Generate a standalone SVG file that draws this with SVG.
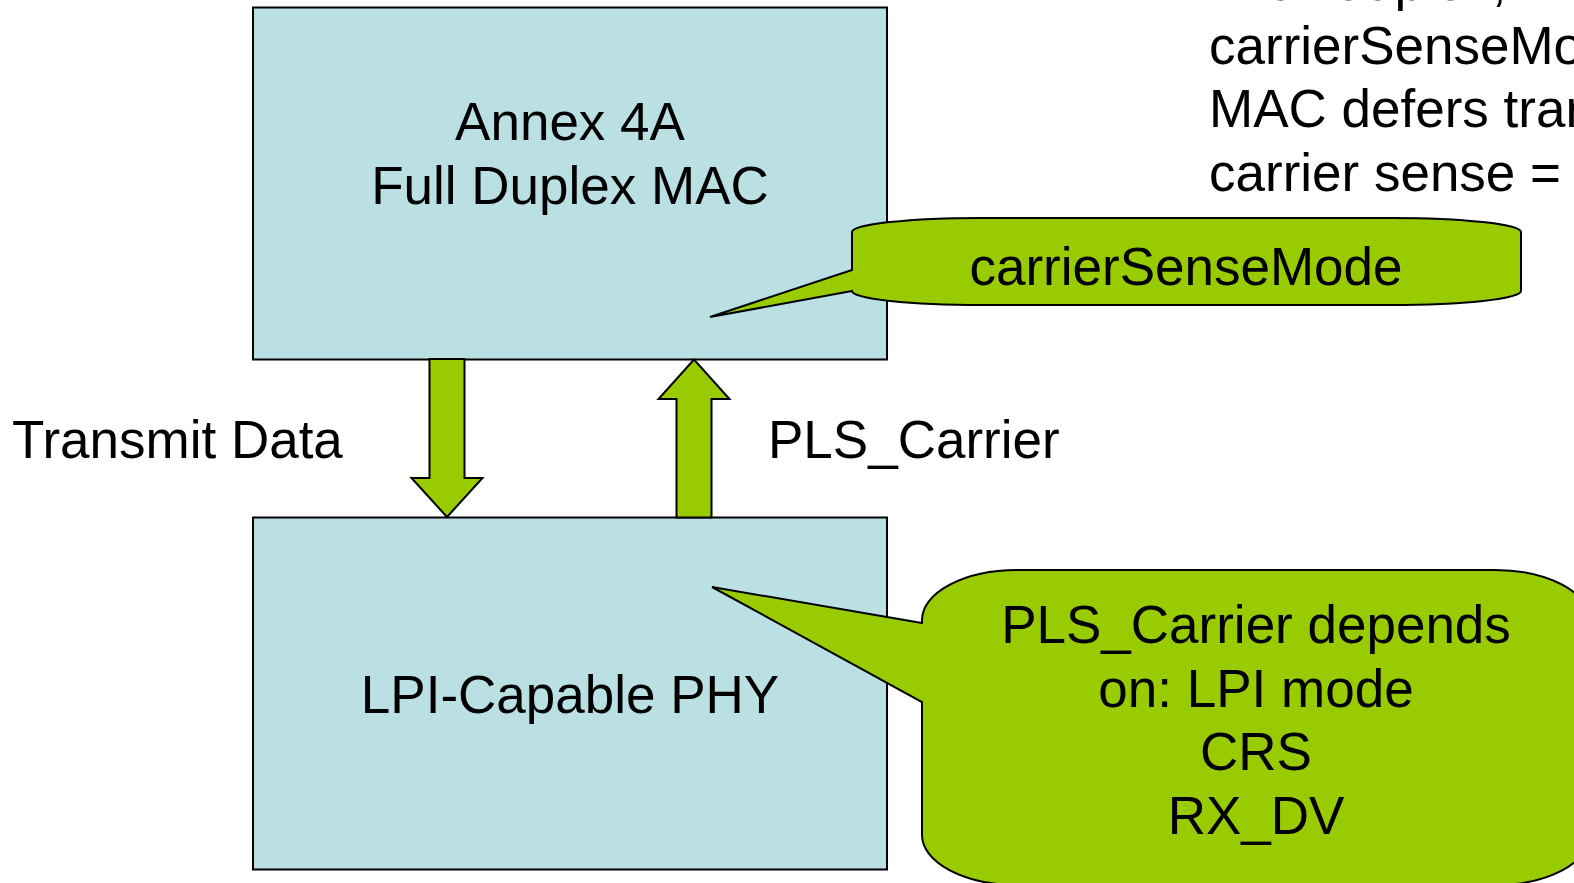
<svg xmlns="http://www.w3.org/2000/svg" width="1574" height="883" viewBox="0 0 1574 883">
<style>
text{font-family:"Liberation Sans",Arial,sans-serif;font-size:53px;fill:#000}
.c{text-anchor:middle}
.box{fill:#BBE0E3;stroke:#000;stroke-width:2}
.green{fill:#99CC00;stroke:#000;stroke-width:2;stroke-linejoin:miter}
</style>
<rect width="1574" height="883" fill="#fff"/>
<g id="note-text">
<text x="1209" y="0">If full duplex,</text>
<text x="1209" y="63.5">carrierSenseMode</text>
<text x="1209" y="127">MAC defers transmission</text>
<text x="1209" y="190.5">carrier sense = true</text>
</g>
<g id="mac">
<rect class="box" x="253" y="7.5" width="634" height="352"/>
<text class="c" x="570" y="140">Annex 4A</text>
<text class="c" x="570" y="203.5">Full Duplex MAC</text>
</g>
<g id="phy">
<rect class="box" x="253" y="517.5" width="634" height="352"/>
<text class="c" x="570" y="713">LPI-Capable PHY</text>
</g>
<g id="connectors">
<path class="green" d="M429.5,359 H464.5 V478 H482.5 L447,517 L411.5,478 H429.5 Z"/>
<path class="green" d="M676.5,517.5 V399 H658.5 L694,359.5 L729.5,399 H711.5 V517.5 Z"/>
<text x="12" y="458">Transmit Data</text>
<text x="768" y="458">PLS_Carrier</text>
</g>
<g id="callout-csm">
<path class="green" d="M982,218 H1391 A130 14 0 0 1 1521,232 V291 A130 14 0 0 1 1391,305 H982 A130 14 0 0 1 852,291 L710,317 L852,270 V232 A130 14 0 0 1 982,218 Z"/>
<text class="c" x="1186" y="285">carrierSenseMode</text>
</g>
<g id="callout-pls">
<path class="green" d="M1017,570 H1495 A95 50 0 0 1 1590,620 V835 A95 50 0 0 1 1495,885 H1017 A95 50 0 0 1 922,835 V702 L712,587 L922,623 V620 A95 50 0 0 1 1017,570 Z"/>
<text class="c" x="1256" y="643">PLS_Carrier depends</text>
<text class="c" x="1256" y="706.5">on: LPI mode</text>
<text class="c" x="1256" y="770">CRS</text>
<text class="c" x="1256" y="833.5">RX_DV</text>
</g>
</svg>
